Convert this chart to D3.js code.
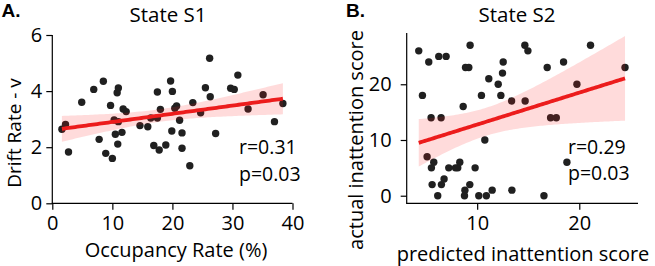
<!DOCTYPE html>
<html><head><meta charset="utf-8">
<script src="https://cdn.jsdelivr.net/npm/d3@7"></script>
<style>
body{margin:0;background:#fff;}
svg text{font-family:"Open Sans",sans-serif;fill:#000;}
</style></head>
<body><svg id="c" width="655" height="266"></svg>
<script>
// Panel A: State S1
const aOccupancy = [1.6,2.2,2.7,4.9,6.9,7.8,8.5,8.9,9.7,10.0,10.3,10.5,10.8,10.9,11.0,11.0,11.6,11.8,12.3,14.6,15.9,16.4,16.9,17.5,17.5,17.8,18.0,18.9,19.7,19.9,20.0,20.4,20.7,21.2,21.6,21.6,22.9,23.4,24.7,25.5,26.2,26.3,27.2,29.7,30.3,30.9,32.6,35.1,37.0,38.4];
const aDrift = [2.64,2.81,1.83,3.6,4.06,2.28,4.35,1.78,3.49,1.6,2.97,2.46,3.94,2.11,4.11,2.91,2.53,3.36,3.27,2.77,2.73,3.04,2.06,3.97,3.04,1.9,3.35,2.08,4.36,2.58,3.99,3.39,3.47,2.96,2.51,1.96,1.34,3.59,3.23,4.12,5.17,3.8,2.49,4.1,4.06,4.57,3.36,3.87,2.91,3.56];
const aXTicks = [0,10,20,30,40];
const aYTicks = [0,2,4,6];
const aStats = ["r=0.31","p=0.03"];

// Panel B: State S2
const bPredicted = [4.28,4.64,5.26,5.49,5.10,5.75,5.52,5.59,6.14,6.24,6.47,6.5,6.76,6.96,7.22,7.88,8.1,8.3,8.63,8.8,8.76,8.86,9.18,9.28,9.31,9.8,10.16,10.42,10.75,10.9,11.14,11.47,12.06,12.32,12.48,12.55,13.37,13.4,14.67,14.7,14.97,16.54,16.86,17.19,17.75,18.46,18.79,19.77,21.1,24.48];
const bActual = [26,18,24,14,7,6,5,2,0,25,14,2,3,25,5,5,5,6,16,1,0,23,23,2,27,5,0,18,10,0,21,1,20,18,22,24,17,1,27,17,26,0,23,14,14,24,6,20,27,23];
const bXTicks = [10,20];
const bYTicks = [0,10,20];
const bStats = ["r=0.29","p=0.03"];

const svg = d3.select("#c");

function regress(xs, ys){
  const n = xs.length, mx = d3.mean(xs), my = d3.mean(ys);
  let sxx=0, sxy=0;
  for(let i=0;i<n;i++){sxx+=(xs[i]-mx)**2; sxy+=(xs[i]-mx)*(ys[i]-my);}
  const b = sxy/sxx, a = my-b*mx;
  let sse=0; for(let i=0;i<n;i++){sse+=(ys[i]-a-b*xs[i])**2;}
  const s = Math.sqrt(sse/(n-2));
  const t = 1.9;
  const [x0,x1] = d3.extent(xs);
  const grid = d3.range(0,101).map(k=>x0+(x1-x0)*k/100);
  return grid.map(x=>{
    const yh = a+b*x;
    const se = s*Math.sqrt(1/n+(x-mx)**2/sxx);
    return {x, y:yh, lo:yh-t*se, hi:yh+t*se};
  });
}

function panel(o){
  const g = svg.append("g");
  const x = d3.scaleLinear().domain(o.xDom).range(o.xRange);
  const y = d3.scaleLinear().domain(o.yDom).range(o.yRange);
  g.append("g").selectAll("circle").data(o.xs.map((v,i)=>[v,o.ys[i]])).join("circle")
    .attr("cx",d=>x(d[0])).attr("cy",d=>y(d[1])).attr("r",3.7)
    .attr("fill","#202020");
  const fit = regress(o.xs,o.ys);
  g.append("path").datum(fit)
    .attr("d",d3.area().x(d=>x(d.x)).y0(d=>y(d.lo)).y1(d=>y(d.hi)))
    .attr("fill","rgb(255,30,30)").attr("fill-opacity",0.16);
  g.append("path").datum(fit)
    .attr("d",d3.line().x(d=>x(d.x)).y(d=>y(d.y)))
    .attr("fill","none").attr("stroke","#ec1c1c").attr("stroke-width",3.8);
  const xa = g.append("g").attr("transform",`translate(0,${o.yRange[0]})`)
    .call(d3.axisBottom(x).tickValues(o.xTicks).tickSize(6.5).tickPadding(4).tickFormat(d3.format("d")));
  const ya = g.append("g").attr("transform",`translate(${o.xRange[0]},0)`)
    .call(d3.axisLeft(y).tickValues(o.yTicks).tickSize(6).tickPadding(o.yPad).tickFormat(d3.format("d")));
  [xa,ya].forEach(a=>{
    a.selectAll(".tick line").attr("stroke","#000").attr("stroke-width",1.2);
    a.selectAll(".tick text").style("font-size","20px").attr("fill","#000");
    a.select(".domain").attr("stroke","#000").attr("stroke-width",1.2);
  });
  xa.select(".domain").attr("d",`M${o.xRange[0]-0.6},0H${o.xRange[1]}`);
  ya.select(".domain").attr("d",`M0,${o.yRange[0]}V${o.yRange[1]}`);
  xa.selectAll(".tick text").attr("y", 13).attr("dy","0.71em");
  g.append("text").attr("x",o.titleX).attr("y",o.titleY).attr("text-anchor","middle")
    .style("font-size","20.5px").text(o.title);
  g.append("text").attr("x",o.letterX).attr("y",o.letterY)
    .style("font-family","'Liberation Sans',Arial,sans-serif")
    .style("font-size","19px").style("font-weight","bold").text(o.letter);
  g.append("text").attr("x",o.xlabX).attr("y",o.xlabY).attr("text-anchor","middle")
    .style("font-size","20px").text(o.xlab);
  g.append("text").attr("transform",`translate(${o.ylabX},${o.ylabY}) rotate(-90)`).attr("text-anchor","middle")
    .style("font-size",o.ylabSize).text(o.ylab);
  o.stats.forEach((s,i)=>{
    g.append("text").attr("x",o.statX).attr("y",o.statY+i*26.5).style("font-size","19.5px").text(s);
  });
}

panel({xs:aOccupancy, ys:aDrift, xDom:[0,40], xRange:[52.3,292.5], yDom:[0,6], yRange:[203.3,35],
  xTicks:aXTicks, yTicks:aYTicks, yPad:4, title:"State S1", titleX:168, titleY:22, letter:"A.", letterX:1.5, letterY:17,
  xlab:"Occupancy Rate (%)", xlabX:176, xlabY:257, ylab:"Drift Rate - v", ylabX:20.5, ylabY:133, ylabSize:"19px",
  stats:aStats, statX:239, statY:154});

panel({xs:bPredicted, ys:bActual, xDom:[3.1,25.75], xRange:[406.7,638], yDom:[-1.36,29.2], yRange:[203.3,33],
  xTicks:bXTicks, yTicks:bYTicks, yPad:9, title:"State S2", titleX:517, titleY:22, letter:"B.", letterX:346, letterY:17,
  xlab:"predicted inattention score", xlabX:523, xlabY:261, ylab:"actual inattention score", ylabX:363, ylabY:140, ylabSize:"20px",
  stats:bStats, statX:568, statY:153.5});
</script></body></html>
